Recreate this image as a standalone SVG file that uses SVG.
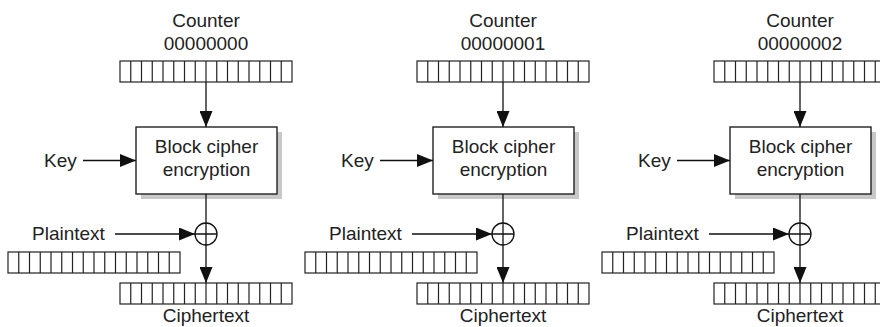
<svg xmlns="http://www.w3.org/2000/svg" xmlns:xlink="http://www.w3.org/1999/xlink" width="880" height="327" viewBox="0 0 880 327">
  <style>
    .t { font-family: "Liberation Sans", Arial, sans-serif; font-size: 19px; fill: #222; }
    .m { text-anchor: middle; }
    .ln { stroke: #111; stroke-width: 1.3; fill: none; }
    .reg { stroke: #222; stroke-width: 1.2; fill: #fff; }
    .box { stroke: #222; stroke-width: 1.4; fill: #fff; }
    .shadow { fill: #c8c8c8; }
  </style>
  <defs>
    <marker id="ah" markerUnits="userSpaceOnUse" markerWidth="16" markerHeight="13" refX="16" refY="6.5" orient="auto">
      <path d="M0,0 L16,6.5 L0,13 Z" fill="#111"/>
    </marker>
    <g id="reg">
      <rect class="reg" x="0" y="0" width="172" height="21"/>
      <path class="reg" d="M10.75,0v21M21.5,0v21M32.25,0v21M43,0v21M53.75,0v21M64.5,0v21M75.25,0v21M86,0v21M96.75,0v21M107.5,0v21M118.25,0v21M129,0v21M139.75,0v21M150.5,0v21M161.25,0v21"/>
    </g>
  </defs>

  <!-- Stage 1 -->
  <g id="stage1">
    <g id="counter1">
      <text class="t m" x="206" y="27">Counter</text>
      <text class="t m" x="206" y="50">00000000</text>
      <use xlink:href="#reg" x="120" y="61"/>
    </g>
    <g id="block1">
      <rect class="shadow" x="141" y="132" width="141" height="67"/>
      <rect class="box" x="136" y="127" width="141" height="67"/>
      <text class="t m" x="206.5" y="153">Block cipher</text>
      <text class="t m" x="206.5" y="176">encryption</text>
    </g>
    <g id="key1"><text class="t" x="44" y="167">Key</text></g>
    <g id="plain1">
      <text class="t" x="32" y="240">Plaintext</text>
      <use xlink:href="#reg" x="8" y="252"/>
    </g>
    <g id="xor1">
      <circle class="ln" cx="206" cy="234" r="11"/>
      <path class="ln" d="M195,234H217M206,223V245"/>
    </g>
    <g id="cipher1">
      <use xlink:href="#reg" x="120" y="283"/>
      <text class="t m" x="206" y="322">Ciphertext</text>
    </g>
  </g>

  <!-- Stage 2 -->
  <g id="stage2">
    <g id="counter2">
      <text class="t m" x="503" y="27">Counter</text>
      <text class="t m" x="503" y="50">00000001</text>
      <use xlink:href="#reg" x="417" y="61"/>
    </g>
    <g id="block2">
      <rect class="shadow" x="438" y="132" width="141" height="67"/>
      <rect class="box" x="433" y="127" width="141" height="67"/>
      <text class="t m" x="503.5" y="153">Block cipher</text>
      <text class="t m" x="503.5" y="176">encryption</text>
    </g>
    <g id="key2"><text class="t" x="341" y="167">Key</text></g>
    <g id="plain2">
      <text class="t" x="329" y="240">Plaintext</text>
      <use xlink:href="#reg" x="305" y="252"/>
    </g>
    <g id="xor2">
      <circle class="ln" cx="503" cy="234" r="11"/>
      <path class="ln" d="M492,234H514M503,223V245"/>
    </g>
    <g id="cipher2">
      <use xlink:href="#reg" x="417" y="283"/>
      <text class="t m" x="503" y="322">Ciphertext</text>
    </g>
  </g>

  <!-- Stage 3 -->
  <g id="stage3">
    <g id="counter3">
      <text class="t m" x="800" y="27">Counter</text>
      <text class="t m" x="800" y="50">00000002</text>
      <use xlink:href="#reg" x="714" y="61"/>
    </g>
    <g id="block3">
      <rect class="shadow" x="735" y="132" width="141" height="67"/>
      <rect class="box" x="730" y="127" width="141" height="67"/>
      <text class="t m" x="800.5" y="153">Block cipher</text>
      <text class="t m" x="800.5" y="176">encryption</text>
    </g>
    <g id="key3"><text class="t" x="638" y="167">Key</text></g>
    <g id="plain3">
      <text class="t" x="626" y="240">Plaintext</text>
      <use xlink:href="#reg" x="602" y="252"/>
    </g>
    <g id="xor3">
      <circle class="ln" cx="800" cy="234" r="11"/>
      <path class="ln" d="M789,234H811M800,223V245"/>
    </g>
    <g id="cipher3">
      <use xlink:href="#reg" x="714" y="283"/>
      <text class="t m" x="800" y="322">Ciphertext</text>
    </g>
  </g>

  <!-- Connectors -->
  <g id="connectors" class="ln">
    <line x1="206" y1="82" x2="206" y2="127" marker-end="url(#ah)"/>
    <line x1="83" y1="160.5" x2="136" y2="160.5" marker-end="url(#ah)"/>
    <line x1="206" y1="194" x2="206" y2="223"/>
    <line x1="206" y1="245" x2="206" y2="283" marker-end="url(#ah)"/>
    <line x1="115" y1="234" x2="195" y2="234" marker-end="url(#ah)"/>

    <line x1="503" y1="82" x2="503" y2="127" marker-end="url(#ah)"/>
    <line x1="380" y1="160.5" x2="433" y2="160.5" marker-end="url(#ah)"/>
    <line x1="503" y1="194" x2="503" y2="223"/>
    <line x1="503" y1="245" x2="503" y2="283" marker-end="url(#ah)"/>
    <line x1="412" y1="234" x2="492" y2="234" marker-end="url(#ah)"/>

    <line x1="800" y1="82" x2="800" y2="127" marker-end="url(#ah)"/>
    <line x1="677" y1="160.5" x2="730" y2="160.5" marker-end="url(#ah)"/>
    <line x1="800" y1="194" x2="800" y2="223"/>
    <line x1="800" y1="245" x2="800" y2="283" marker-end="url(#ah)"/>
    <line x1="709" y1="234" x2="789" y2="234" marker-end="url(#ah)"/>
  </g>
</svg>
